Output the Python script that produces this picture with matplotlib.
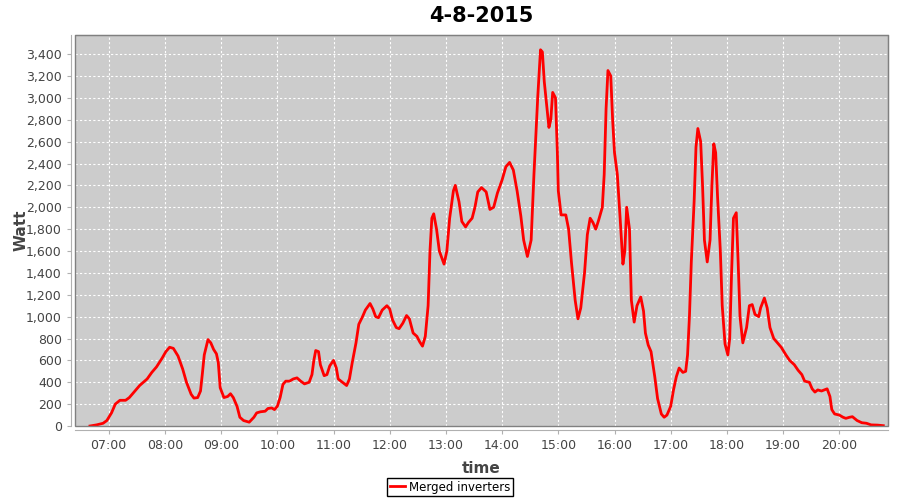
# -*- coding: utf-8 -*-
import matplotlib
matplotlib.use('Agg')
import matplotlib.pyplot as plt
import matplotlib.dates as mdates
import matplotlib.ticker as mticker
import pandas as pd

day = '2015-08-04'

times = ['06:40', '06:47', '06:54', '06:58', '07:03', '07:07', '07:12', '07:18', '07:22', '07:28',
         '07:33', '07:41', '07:46', '07:51', '07:57', '08:01', '08:05', '08:09', '08:14', '08:19',
         '08:23', '08:28', '08:31', '08:35', '08:38', '08:40', '08:42', '08:46', '08:49', '08:52',
         '08:55', '08:57', '08:59', '09:03', '09:07', '09:10', '09:13', '09:17', '09:20', '09:24',
         '09:30', '09:35', '09:38', '09:42', '09:47', '09:50', '09:54', '09:57', '10:00', '10:03',
         '10:06', '10:09', '10:13', '10:17', '10:21', '10:25', '10:29', '10:34', '10:37', '10:39',
         '10:41', '10:44', '10:46', '10:50', '10:53', '10:56', '11:00', '11:03', '11:05', '11:08',
         '11:11', '11:14', '11:17', '11:20', '11:24', '11:27', '11:31', '11:34', '11:39', '11:42',
         '11:45', '11:48', '11:52', '11:57', '12:00', '12:03', '12:07', '12:10', '12:14', '12:18',
         '12:21', '12:25', '12:29', '12:32', '12:35', '12:38', '12:41', '12:43', '12:45', '12:47',
         '12:50', '12:53', '12:58', '13:01', '13:04', '13:08', '13:10', '13:14', '13:17', '13:21',
         '13:24', '13:28', '13:31', '13:34', '13:38', '13:43', '13:47', '13:51', '13:55', '14:00',
         '14:04', '14:08', '14:12', '14:16', '14:20', '14:23', '14:27', '14:31', '14:34', '14:38',
         '14:41', '14:43', '14:45', '14:48', '14:50', '14:52', '14:54', '14:57', '14:59', '15:00',
         '15:03', '15:08', '15:11', '15:14', '15:18', '15:21', '15:24', '15:28', '15:31', '15:34',
         '15:37', '15:40', '15:43', '15:47', '15:49', '15:51', '15:53', '15:56', '15:58', '16:00',
         '16:03', '16:06', '16:09', '16:11', '16:13', '16:16', '16:18', '16:21', '16:24', '16:28',
         '16:31', '16:33', '16:36', '16:39', '16:43', '16:46', '16:50', '16:53', '16:56', '17:00',
         '17:03', '17:06', '17:09', '17:13', '17:16', '17:18', '17:20', '17:22', '17:25', '17:27',
         '17:29', '17:32', '17:34', '17:36', '17:39', '17:42', '17:44', '17:46', '17:48', '17:50',
         '17:53', '17:55', '17:58', '18:01', '18:03', '18:05', '18:07', '18:10', '18:12', '18:14',
         '18:17', '18:21', '18:24', '18:27', '18:30', '18:34', '18:36', '18:40', '18:43', '18:46',
         '18:50', '18:54', '18:58', '19:03', '19:07', '19:12', '19:16', '19:20', '19:23', '19:28',
         '19:31', '19:34', '19:37', '19:41', '19:44', '19:47', '19:50', '19:52', '19:55', '20:00',
         '20:04', '20:07', '20:11', '20:14', '20:19', '20:24', '20:29', '20:34', '20:41', '20:47']

watt = [0, 10, 25, 50, 120, 200, 235, 235, 260, 320,
        370, 430, 490, 540, 620, 680, 720, 710, 640, 520,
        400, 290, 255, 260, 320, 480, 650, 790, 760, 700,
        660, 580, 350, 260, 270, 295, 260, 180, 80, 50,
        35, 80, 120, 130, 135, 160, 165, 150, 180, 260,
        380, 410, 410, 430, 440, 410, 385, 400, 470, 600,
        690, 680, 560, 460, 470, 550, 600, 530, 430, 410,
        390, 370, 430, 580, 760, 930, 1000, 1060, 1120, 1070,
        1000, 990, 1060, 1100, 1070, 970, 900, 890, 940, 1010,
        980, 850, 820, 770, 730, 820, 1100, 1600, 1900, 1940,
        1800, 1600, 1480, 1600, 1900, 2150, 2200, 2050, 1870, 1820,
        1860, 1900, 2000, 2140, 2180, 2140, 1980, 2000, 2130, 2250,
        2370, 2410, 2340, 2150, 1920, 1700, 1550, 1700, 2300, 3000,
        3440, 3420, 3150, 2900, 2730, 2800, 3050, 3000, 2500, 2150,
        1930, 1930, 1800, 1500, 1150, 980, 1080, 1400, 1750, 1900,
        1860, 1800, 1880, 2000, 2300, 2900, 3250, 3200, 2800, 2500,
        2300, 1900, 1480, 1600, 2000, 1800, 1150, 950, 1100, 1180,
        1050, 850, 740, 680, 450, 250, 110, 80, 100, 180,
        330, 450, 530, 490, 500, 650, 1000, 1500, 2050, 2550,
        2720, 2600, 2200, 1700, 1500, 1700, 2200, 2580, 2500, 2100,
        1600, 1100, 750, 650, 800, 1400, 1900, 1950, 1500, 1000,
        760, 900, 1100, 1110, 1020, 1000, 1080, 1170, 1080, 900,
        800, 760, 720, 650, 600, 560, 510, 470, 410, 400,
        340, 310, 330, 320, 330, 340, 270, 150, 110, 100,
        80, 70, 80, 85, 50, 30, 25, 10, 8, 3]

x = pd.to_datetime([day + ' ' + t for t in times])

fig = plt.figure(figsize=(9, 5), dpi=100)
ax = fig.add_axes([75 / 900, 1 - 426 / 500, 813 / 900, 391 / 500])
ax.set_facecolor('#cccccc')

ax.plot(x, watt, color='#ff0000', lw=2, label='Merged inverters',
        solid_joinstyle='round')

ax.set_xlim(pd.Timestamp(day + ' 06:24'), pd.Timestamp(day + ' 20:52'))
ax.set_ylim(0, 3575)
ax.xaxis.set_major_locator(mdates.HourLocator())
ax.xaxis.set_major_formatter(mdates.DateFormatter('%H:%M'))
ax.yaxis.set_major_locator(mticker.MultipleLocator(200))
ax.yaxis.set_major_formatter(mticker.FuncFormatter(lambda v, p: '{:,.0f}'.format(v)))

ax.grid(True, color='white', linestyle=(0, (2, 2)), lw=0.8)
ax.set_axisbelow(True)

for s in ['top', 'right']:
    ax.spines[s].set_color('#808080')
for s in ['left', 'bottom']:
    ax.spines[s].set_position(('outward', 3))
    ax.spines[s].set_color('#b0b0b0')
# plot outline
ax.add_patch(plt.Rectangle((0, 0), 1, 1, transform=ax.transAxes, fill=False,
                           edgecolor='#808080', lw=1, clip_on=False, zorder=5))

ax.tick_params(colors='#b0b0b0', labelcolor='#444444', labelsize=9, length=3)

ax.set_title('4-8-2015', fontsize=15, fontweight='bold', pad=9)
ax.set_xlabel('time', fontsize=11, fontweight='bold', color='#444444', labelpad=6)
ax.set_ylabel('Watt', fontsize=11, fontweight='bold', color='#444444', labelpad=-2)

fig.legend(loc='center', bbox_to_anchor=(0.5, 1 - 487 / 500), fontsize=8.5,
           frameon=True, fancybox=False, edgecolor='black', framealpha=1,
           handlelength=1.3, borderpad=0.25, handletextpad=0.3)

fig.savefig('out.png', dpi=100)
